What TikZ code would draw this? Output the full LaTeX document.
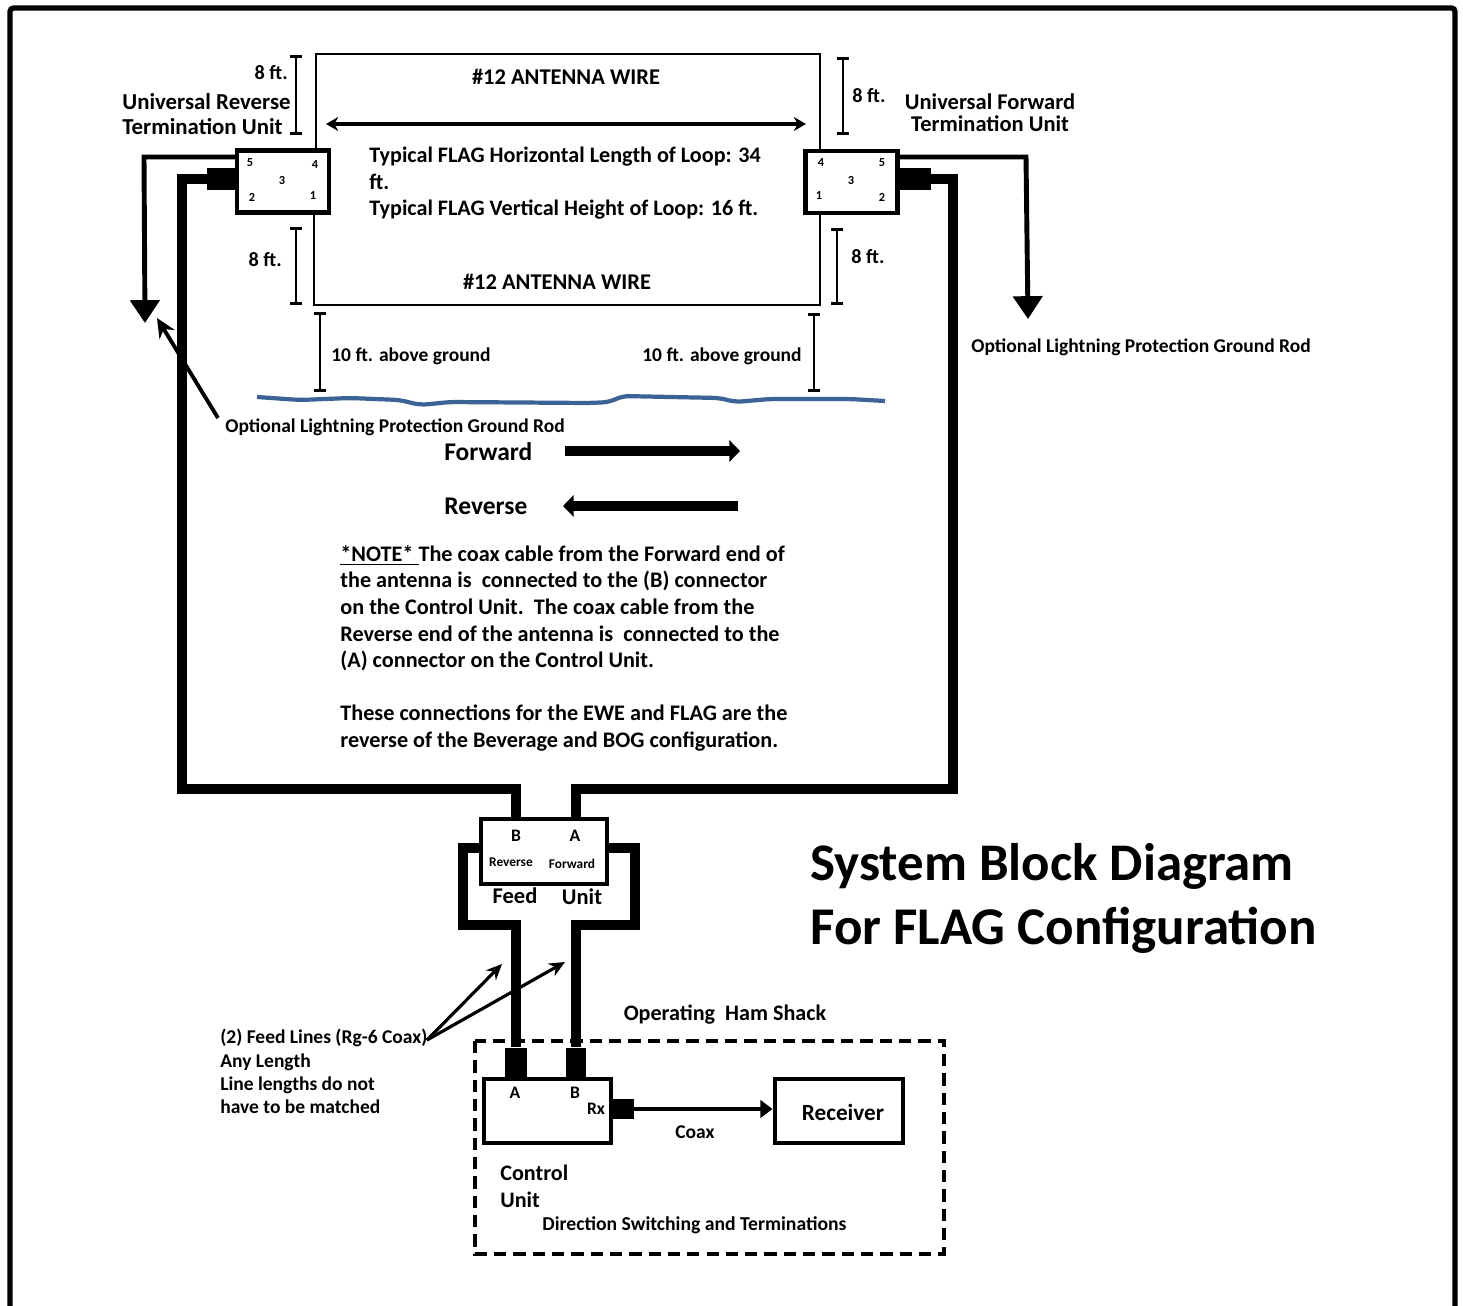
\documentclass[tikz,border=0pt]{standalone}
\usepackage{fontspec}
\setmainfont{Carlito}
\usetikzlibrary{arrows.meta, positioning}
\definecolor{groundblue}{RGB}{59,99,150}
\tikzset{
  lbl/.style={inner sep=0pt, font=\fontsize{11.1}{13}\selectfont\bfseries},
  lblbig/.style={inner sep=0pt, font=\fontsize{12.8}{15}\selectfont\bfseries},
  letter/.style={inner sep=0pt, font=\fontsize{10}{12}\selectfont\bfseries},
  digit/.style={inner sep=0pt, font=\fontsize{7}{8}\selectfont\bfseries},
  unitbox/.style={draw, line width=2.8pt, minimum width=#1, inner sep=0pt},
  plug/.style={fill=black, inner sep=0pt, minimum width=#1},
  coaxline/.style={line width=6.2pt, line join=miter},
  thinline/.style={line width=1.5pt},
  gndline/.style={line width=2.8pt, -{Triangle[length=13pt,width=16.5pt]}},
  dimbar/.style={line width=1.6pt, {Bar[width=7pt]}-{Bar[width=7pt]}},
  pointer/.style={line width=1.8pt, -{Stealth[length=9pt,width=8pt]}}
}
\begin{document}
\begin{tikzpicture}[x=0.02cm, y=-0.02cm]
    \useasboundingbox (0,0) rectangle (1463,1305);
    % outer frame, open at the bottom
    \draw[line width=3pt, rounded corners=2pt] (10,1310) -- (10,8) -- (1455,8) -- (1455,1310);

    % termination units
    \node[unitbox=1.84cm, minimum height=1.24cm] (revunit) at (283,181.5) {};
    \node[unitbox=1.84cm, minimum height=1.24cm] (fwdunit) at (851.5,182) {};
    \foreach \lab/\px/\py in {5/250/163, 4/315/165, 3/282/181, 2/252/197, 1/313/196} {
      \node[digit] (rev\lab) at (\px,\py) {\lab};
    }
    \foreach \lab/\px/\py in {4/821/163, 5/882/163, 3/851/181, 1/819/196, 2/882/197} {
      \node[digit] (fwd\lab) at (\px,\py) {\lab};
    }

    % antenna loop
    \coordinate (looptl) at (316,54);
    \coordinate (looptr) at (820,54);
    \coordinate (loopbl) at (314,305);
    \coordinate (loopbr) at (820,305);
    \draw[thinline] (revunit.north -| looptl) -- (looptl) -- (looptr) -- (fwdunit.north -| looptr);
    \draw[thinline] (revunit.south -| loopbl) -- (loopbl) -- (loopbr) -- (fwdunit.south -| loopbr);
    \node[lblbig] (topwire) at (566,77) {\#12 ANTENNA WIRE};
    \node[lblbig] (botwire) at (557,282) {\#12 ANTENNA WIRE};
    \coordinate (spanl) at (326,124);
    \coordinate (spanr) at (806,124);
    \draw[line width=2pt, {Stealth[length=7pt,width=8pt]}-{Stealth[length=7pt,width=8pt]}] (spanl) -- (spanr);
    \node[lbl, anchor=north west, align=left, font=\fontsize{12.6}{15.1}\selectfont\bfseries] (looptext) at (369,147)
      {Typical FLAG Horizontal Length of Loop: 34\\ft.\\Typical FLAG Vertical Height of Loop: 16 ft.};

    % height marks
    \foreach \name/\xa/\ya/\xb/\yb in {a/296/55/296/135, b/296/227/296/305, c/843/57/843/135,
        d/837/228/837/305, e/320/312/320/392, f/814/313/814/392} {
      \coordinate (dim\name top) at (\xa,\ya);
      \coordinate (dim\name bot) at (\xb,\yb);
      \draw[dimbar] (dim\name top) -- (dim\name bot);
    }
    \node[lbl, anchor=east, font=\fontsize{11.5}{14}\selectfont\bfseries] (ftrevtop) at (288,73) {8 ft.};
    \node[lbl, anchor=east, font=\fontsize{11.5}{14}\selectfont\bfseries] (ftrevbot) at (282,260) {8 ft.};
    \node[lbl, anchor=west, font=\fontsize{11.5}{14}\selectfont\bfseries] (ftfwdtop) at (852,96) {8 ft.};
    \node[lbl, anchor=west, font=\fontsize{11.5}{14}\selectfont\bfseries] (ftfwdbot) at (851,257) {8 ft.};
    \node[lbl, anchor=west] (aboverev) at (331,356) {10 ft. above ground};
    \node[lbl, anchor=west] (abovefwd) at (642,356) {10 ft. above ground};

    \node[lblbig, anchor=north west, align=left, font=\fontsize{13}{14.2}\selectfont\bfseries] (revname) at (122,93)
      {Universal Reverse\\Termination Unit};
    \node[lblbig, align=center, font=\fontsize{12.8}{12.2}\selectfont\bfseries] (fwdname) at (990,112.5)
      {Universal Forward\\Termination Unit};

    % ground rods
    \coordinate (revport) at (237,157);
    \coordinate (fwdport) at (898,157);
    \coordinate (rodrev) at (145,323);
    \coordinate (rodfwd) at (1028,319);
    \draw[gndline] (revport) -- (144,157) -- (rodrev);
    \draw[gndline] (fwdport) -- (1026,157) -- (rodfwd);
    \node[lbl, anchor=west] (rodnotefwd) at (971,347) {Optional Lightning Protection Ground Rod};
    \node[lbl, anchor=west] (rodnoterev) at (225,427) {Optional Lightning Protection Ground Rod};
    \coordinate (rodtail) at (218,418);
    \coordinate (rodhead) at (157,318);
    \draw[line width=2.2pt, -{Stealth[length=11pt,width=10pt]}] (rodtail) -- (rodhead);

    % ground level
    \draw[groundblue, line width=2.4pt, rounded corners=4pt] (257,397) -- (300,400) -- (350,398) -- (400,400)
      -- (420,405) -- (450,402) -- (590,403) -- (610,402) -- (622,396) -- (720,398) -- (735,402)
      -- (770,399) -- (850,399) -- (885,401);

    % direction legend
    \node[lblbig, anchor=west, font=\fontsize{14.5}{17}\selectfont\bfseries] (fwdlabel) at (444,452) {Forward};
    \node[lblbig, anchor=west, font=\fontsize{14.5}{17}\selectfont\bfseries] (revlabel) at (444,506) {Reverse};
    \coordinate (fwdfrom) at (565,451);
    \coordinate (fwdto) at (740,451);
    \coordinate (revfrom) at (738,506);
    \coordinate (revto) at (563,506);
    \draw[line width=5.2pt, -{Triangle[length=6pt,width=12pt]}] (fwdfrom) -- (fwdto);
    \draw[line width=5.2pt, -{Triangle[length=6pt,width=12pt]}] (revfrom) -- (revto);

    % note
    \node[lbl, anchor=north west, align=left, font=\fontsize{12.65}{15.15}\selectfont\bfseries] (note) at (340,545)
      {\underline{*NOTE* }The coax cable from the Forward end of\\
       the antenna is\ \ connected to the (B) connector\\
       on the Control Unit.\ \ The coax cable from the\\
       Reverse end of the antenna is\ \ connected to the\\
       (A) connector on the Control Unit.\\[15.15pt]
       These connections for the EWE and FLAG are the\\
       reverse of the Beverage and BOG configuration.};

    % feed unit
    \node[unitbox=2.52cm, minimum height=1.3cm] (feedunit) at (544,851.5) {};
    \node[letter] (feedb) at (516,836) {B};
    \node[letter] (feeda) at (575,836) {A};
    \node[digit, font=\fontsize{7.6}{9}\selectfont\bfseries] (feedrev) at (511,862) {Reverse};
    \node[digit, font=\fontsize{7.6}{9}\selectfont\bfseries] (feedfwd) at (572,864) {Forward};
    \node[lblbig] (feedword) at (515,896) {Feed};
    \node[lblbig] (unitword) at (582,897) {Unit};

    % control unit and receiver
    \node[unitbox=2.54cm, minimum height=1.28cm] (ctrlunit) at (547.5,1111) {};
    \node[unitbox=2.56cm, minimum height=1.28cm] (receiver) at (839,1111) {};
    \node[letter] (ctrla) at (515,1093) {A};
    \node[letter] (ctrlb) at (575,1093) {B};
    \node[letter] (ctrlrx) at (596,1109) {Rx};
    \node[lblbig, font=\fontsize{13.2}{15}\selectfont\bfseries] (receivertext) at (843,1112) {Receiver};
    \node[lblbig, anchor=north west, align=left, font=\fontsize{12.6}{15.1}\selectfont\bfseries] (ctrltext) at (500,1165) {Control\\Unit};
    \node[lbl, font=\fontsize{11.2}{13}\selectfont\bfseries] (switching) at (694.5,1225) {Direction Switching and Terminations};
    \node[lbl] (coaxtext) at (695,1132.5) {Coax};
    \node[lblbig, font=\fontsize{12.6}{15}\selectfont\bfseries] (shack) at (725,1015) {Operating\ \ Ham Shack};
    \draw[line width=2pt, dash pattern=on 7pt off 4pt] (475,1041) rectangle (944,1254);

    % plugs
    \node[plug=0.6cm, minimum height=0.44cm] (plugrev) at (222,179) {};
    \node[plug=0.66cm, minimum height=0.44cm] (plugfwd) at (914.5,179) {};
    \node[plug=0.44cm, minimum height=0.62cm] (plugctrla) at (516,1063) {};
    \node[plug=0.40cm, minimum height=0.62cm] (plugctrlb) at (576,1063) {};
    \node[plug=0.46cm, minimum height=0.40cm] (plugrx) at (622.5,1109) {};

    % coax runs
    \draw[coaxline] (plugrev.west) -| (182,789) -| (feedunit.north -| 516,0);
    \draw[coaxline] (plugfwd.east) -| (953,789) -| (feedunit.north -| 576,0);
    \draw[coaxline] (feedunit.west |- 0,848) -- (463,848) |- (516,925) -- (plugctrla.north);
    \draw[coaxline] (feedunit.east |- 0,848) -- (635,848) |- (576,925) -- (plugctrlb.north);
    \draw[line width=2.6pt, -{Triangle[length=7pt,width=10pt]}] (plugrx.east) -- (receiver.west |- plugrx.east);

    % title
    \node[anchor=west, inner sep=0pt, font=\fontsize{30.1}{35}\selectfont\bfseries] (title) at (810,866) {System Block Diagram};
    \node[anchor=west, inner sep=0pt, font=\fontsize{30.2}{35}\selectfont\bfseries] (subtitle) at (810,930) {For FLAG Configuration};

    % feed line note
    \node[lbl, anchor=north west, align=left, font=\fontsize{11.1}{13.3}\selectfont\bfseries] (feednote) at (220,1029)
      {(2) Feed Lines (Rg-6 Coax)\\Any Length\\Line lengths do not\\have to be matched};
    \coordinate (feedtail) at (427,1040);
    \coordinate (feedleft) at (502,964);
    \coordinate (feedright) at (565,962);
    \draw[pointer] (feedtail) -- (feedleft);
    \draw[pointer] (feedtail) -- (feedright);
  \end{tikzpicture}
\end{document}
